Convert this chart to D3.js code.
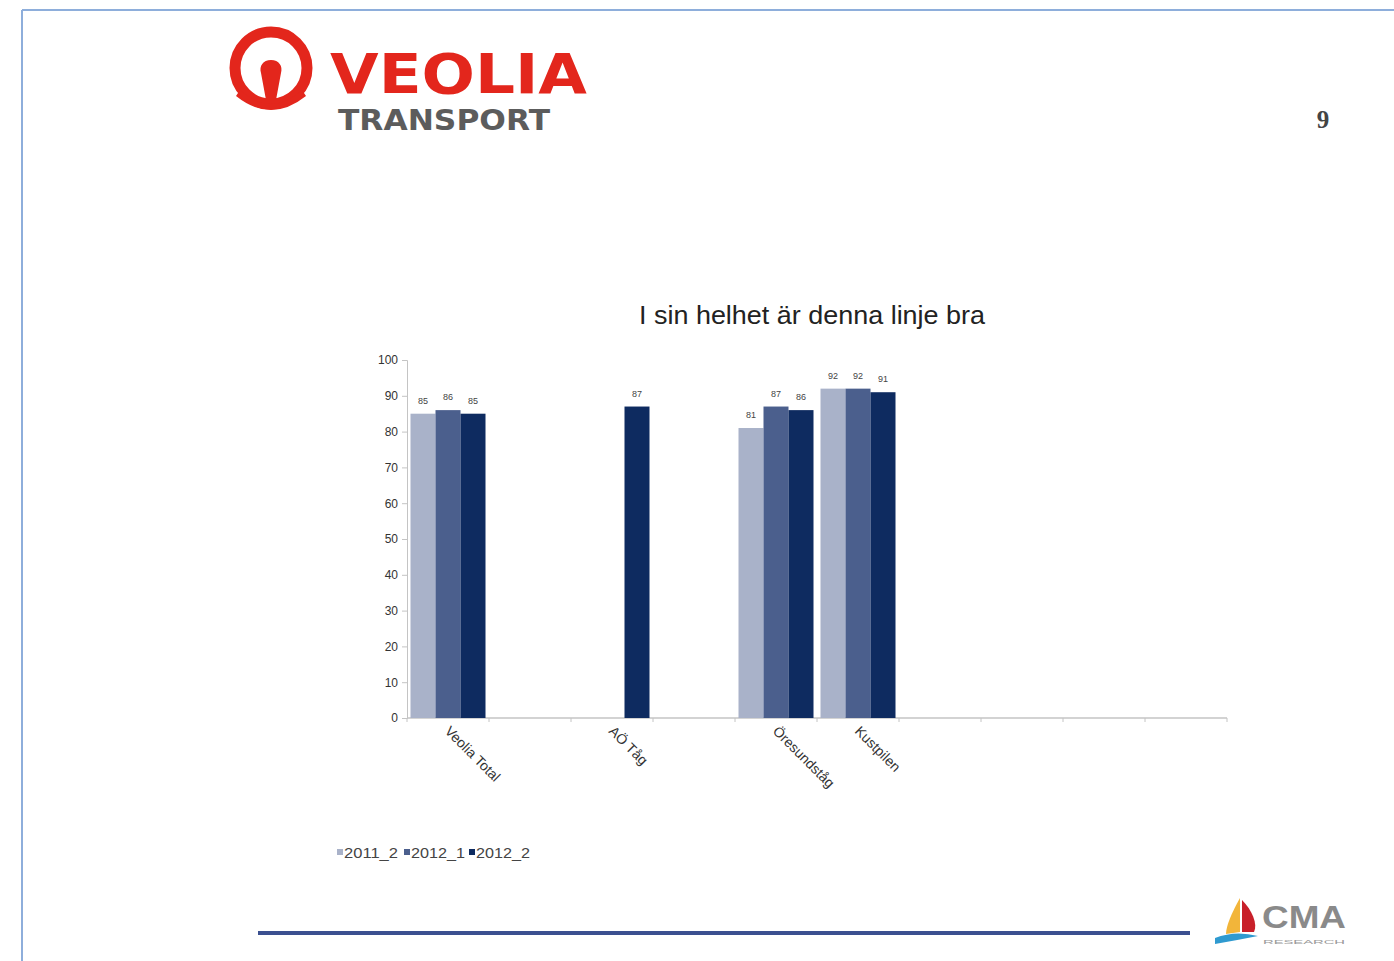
<!DOCTYPE html>
<html>
<head>
<meta charset="utf-8">
<script src="https://cdn.jsdelivr.net/npm/d3@7"></script>
<style>
  html, body { margin: 0; padding: 0; background: #fff; }
  svg { display: block; }
</style>
</head>
<body>
<div id="chart"></div>
<script>
// ---- data ----
const categories = ["Veolia Total", "", "AÖ Tåg", "", "Öresundståg", "Kustpilen", "", "", "", ""];
const seriesNames = ["2011_2", "2012_1", "2012_2"];
const values2011_2 = [85, null, null, null, 81, 92, null, null, null, null];
const values2012_1 = [86, null, null, null, 87, 92, null, null, null, null];
const values2012_2 = [85, null, 87, null, 86, 91, null, null, null, null];
const yTicks = [0, 10, 20, 30, 40, 50, 60, 70, 80, 90, 100];
const title = "I sin helhet är denna linje bra";
const pageNumber = "9";

const seriesColors = ["#a9b2c9", "#4b5f8d", "#0e2b60"];
const allSeries = [values2011_2, values2012_1, values2012_2];

const W = 1394, H = 961;
const svg = d3.select("#chart").append("svg").attr("width", W).attr("height", H);

// page frame
svg.append("line").attr("x1", 22).attr("x2", 22).attr("y1", 10).attr("y2", H)
  .attr("stroke", "#8eaedb").attr("stroke-width", 2);
svg.append("line").attr("x1", 22).attr("x2", W).attr("y1", 10).attr("y2", 10)
  .attr("stroke", "#8eaedb").attr("stroke-width", 2);

// Veolia logo
const logo = svg.append("g");
logo.append("circle").attr("cx", 271).attr("cy", 68).attr("r", 36)
  .attr("fill", "none").attr("stroke", "#e3261c").attr("stroke-width", 11);
logo.append("path")
  .attr("d", "M271,60 C279,60 283,66 281,73 L276,100 L266,100 L261,73 C259,66 263,60 271,60 Z")
  .attr("fill", "#e3261c");
logo.append("path")
  .attr("d", "M240,90 Q271,118 302,90 L306,96 Q271,124 236,96 Z")
  .attr("fill", "#e3261c");
logo.append("text").attr("x", 330).attr("y", 93)
  .attr("font-family", "DejaVu Sans, sans-serif").attr("font-weight", "bold")
  .attr("font-size", 56).attr("fill", "#e3261c")
  .attr("textLength", 257).attr("lengthAdjust", "spacingAndGlyphs")
  .text("VEOLIA");
logo.append("text").attr("x", 338).attr("y", 130)
  .attr("font-family", "DejaVu Sans, sans-serif").attr("font-weight", "bold")
  .attr("font-size", 29).attr("fill", "#5c5c5c")
  .attr("textLength", 212).attr("lengthAdjust", "spacingAndGlyphs")
  .text("TRANSPORT");

// page number
svg.append("text").attr("x", 1323).attr("y", 128).attr("text-anchor", "middle")
  .attr("font-family", "Liberation Serif, serif").attr("font-size", 25).attr("font-weight", "bold")
  .attr("fill", "#444").text(pageNumber);

// title
svg.append("text").attr("x", 812).attr("y", 324).attr("text-anchor", "middle")
  .attr("font-family", "Liberation Sans, Arial, sans-serif").attr("font-size", 26)
  .attr("fill", "#222").attr("textLength", 346).attr("lengthAdjust", "spacingAndGlyphs")
  .text(title);

// scales
const y = d3.scaleLinear().domain([0, 100]).range([718, 360]);
const x = d3.scaleBand().domain(categories.map((d, i) => i)).range([407, 1227]).paddingInner(0).paddingOuter(0);
const xs = d3.scaleBand().domain(seriesNames).range([0, x.bandwidth()]).paddingOuter(0.14).paddingInner(0);

// y axis
const yAxis = d3.axisLeft(y).tickValues(yTicks).tickSize(5).tickPadding(4);
const gy = svg.append("g").attr("transform", "translate(407,0)").call(yAxis);
gy.select(".domain").attr("stroke", "#c4c4c4");
gy.selectAll(".tick line").attr("stroke", "#c4c4c4");
gy.selectAll(".tick text").attr("font-family", "Liberation Sans, Arial, sans-serif")
  .attr("font-size", 12).attr("fill", "#333");

// x axis (ticks at category boundaries)
const boundaries = d3.range(categories.length + 1).map(i => x.range()[0] + i * x.step());
const gx = svg.append("g");
gx.append("line").attr("x1", 407).attr("x2", 1227).attr("y1", y(0)).attr("y2", y(0))
  .attr("stroke", "#c4c4c4").attr("stroke-width", 1.5);
gx.selectAll("line.tk").data(boundaries).join("line").attr("class", "tk")
  .attr("x1", d => d).attr("x2", d => d).attr("y1", y(0)).attr("y2", y(0) + 4)
  .attr("stroke", "#c4c4c4");

// bars
const barData = [];
allSeries.forEach((vals, si) => {
  vals.forEach((v, ci) => { if (v != null) barData.push({ si, ci, v }); });
});
svg.append("g").selectAll("rect").data(barData).join("rect")
  .attr("x", d => x(d.ci) + xs(seriesNames[d.si]))
  .attr("width", xs.bandwidth())
  .attr("y", d => y(d.v))
  .attr("height", d => y(0) - y(d.v))
  .attr("fill", d => seriesColors[d.si]);

// value labels
svg.append("g").selectAll("text").data(barData).join("text")
  .attr("x", d => x(d.ci) + xs(seriesNames[d.si]) + xs.bandwidth() / 2)
  .attr("y", d => y(d.v) - 10)
  .attr("text-anchor", "middle")
  .attr("font-family", "Liberation Sans, Arial, sans-serif").attr("font-size", 9)
  .attr("fill", "#444").text(d => d.v);

// category labels rotated 45°
svg.append("g").selectAll("text").data(categories.map((c, i) => ({ c, i })).filter(d => d.c))
  .join("text")
  .attr("transform", d => `translate(${x(d.i) + x.bandwidth() / 2 - 4},${y(0) + 14}) rotate(45)`)
  .attr("font-family", "Liberation Sans, Arial, sans-serif").attr("font-size", 14)
  .attr("fill", "#333").text(d => d.c);

// legend
const legend = svg.append("g").attr("transform", "translate(337,853)");
const legX = [0, 67, 132];
seriesNames.forEach((s, i) => {
  const g = legend.append("g").attr("transform", `translate(${legX[i]},0)`);
  g.append("rect").attr("x", 0).attr("y", -4).attr("width", 6).attr("height", 6).attr("fill", seriesColors[i]);
  g.append("text").attr("x", 7).attr("y", 5).attr("font-family", "Liberation Sans, Arial, sans-serif")
    .attr("font-size", 14).attr("fill", "#444")
    .attr("textLength", 54).attr("lengthAdjust", "spacingAndGlyphs").text(s);
});

// bottom rule
svg.append("line").attr("x1", 258).attr("x2", 1190).attr("y1", 933).attr("y2", 933)
  .attr("stroke", "#3b5090").attr("stroke-width", 4);

// CMA logo
const cma = svg.append("g");
cma.append("path").attr("d", "M1240,898 C1232,912 1226,926 1226,934 L1240,932 Z").attr("fill", "#f2b53a");
cma.append("path").attr("d", "M1242,900 C1252,910 1258,924 1254,932 L1242,932 Z").attr("fill", "#c8202a");
cma.append("path").attr("d", "M1215,938 Q1235,930 1258,936 Q1238,940 1215,944 Z").attr("fill", "#2f9ad0");
cma.append("text").attr("x", 1262).attr("y", 928)
  .attr("font-family", "Liberation Sans, Arial, sans-serif").attr("font-weight", "bold")
  .attr("font-size", 32).attr("fill", "#8a8a8a")
  .attr("textLength", 84).attr("lengthAdjust", "spacingAndGlyphs").text("CMA");
cma.append("text").attr("x", 1263).attr("y", 944)
  .attr("font-family", "Liberation Sans, Arial, sans-serif").attr("font-size", 6)
  .attr("fill", "#999").attr("textLength", 82).attr("lengthAdjust", "spacingAndGlyphs").text("RESEARCH");
</script>
</body>
</html>
